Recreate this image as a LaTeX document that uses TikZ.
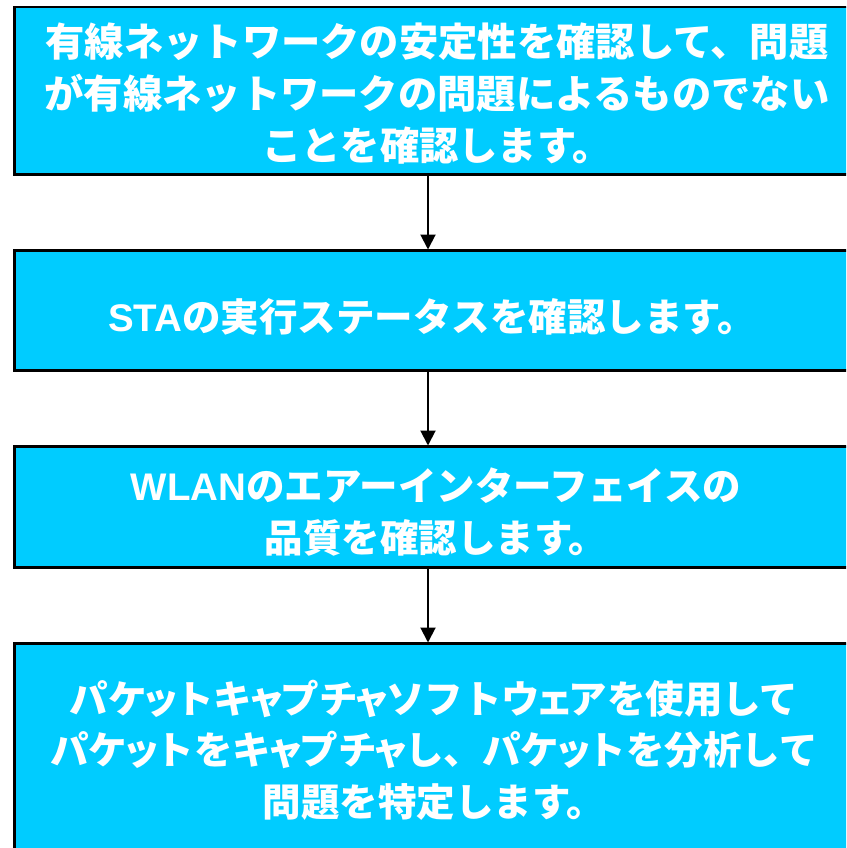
\documentclass[tikz,border=0pt]{standalone}
\usepackage{fontspec}
\newfontfamily\jp{Noto Sans CJK JP}
\newfontfamily\lat{Liberation Sans}
\usetikzlibrary{arrows.meta}
\definecolor{boxcyan}{HTML}{00CCFF}
\newcommand\smk[1]{\makebox[0.74em][c]{#1}}
\tikzset{
  box/.style={draw=black, line width=2.5pt, fill=boxcyan, rectangle, inner sep=0pt, anchor=north west, minimum width=847pt},
  txt/.style={text=white, align=center, inner sep=0pt, font=\jp\bfseries\fontsize{38.5}{51.5}\selectfont},
  arr/.style={draw=black, line width=2pt, -{Triangle[width=15pt,length=15pt]}, shorten >=-0.5pt}
}
\begin{document}
\begin{tikzpicture}[x=1pt,y=-1pt]
\useasboundingbox (0,0) rectangle (846,848);
\clip (0,0) rectangle (846,848);
\fill[white] (0,0) rectangle (846,848);
\node[box, minimum height=167pt] (b1) at (13,6) {};
\node[box, minimum height=120pt] (b2) at (13,249) {};
\node[box, minimum height=121pt] (b3) at (13,445) {};
\node[box, minimum height=260pt] (b4) at (13,642) {};
\coordinate (ax) at (428,0);
\node[txt, font=\jp\bfseries\fontsize{39.3}{52}\selectfont] (t1) at (437,94) {有線ネットワークの安定性を確認して、問題\\が有線ネットワークの問題によるものでない\\ことを確認します。};
\node[txt] (t2) at (432,317) {{\lat\bfseries STA}の実行ステータスを確認します。};
\node[txt] (t3) at (436,512) {{\lat\bfseries WLAN}のエアーインターフェイスの\\品質を確認します。};
\node[txt] (t4) at (434,750) {パケ\smk{ッ}トキ\smk{ャ}プチ\smk{ャ}ソフトウ\smk{ェ}アを使用して\\パケ\smk{ッ}トをキ\smk{ャ}プチ\smk{ャ}し、パケ\smk{ッ}トを分析して\\問題を特定します。};
\draw[arr] (b1.south -| ax) -- (b2.north -| ax);
\draw[arr] (b2.south -| ax) -- (b3.north -| ax);
\draw[arr] (b3.south -| ax) -- (b4.north -| ax);
\end{tikzpicture}
\end{document}
